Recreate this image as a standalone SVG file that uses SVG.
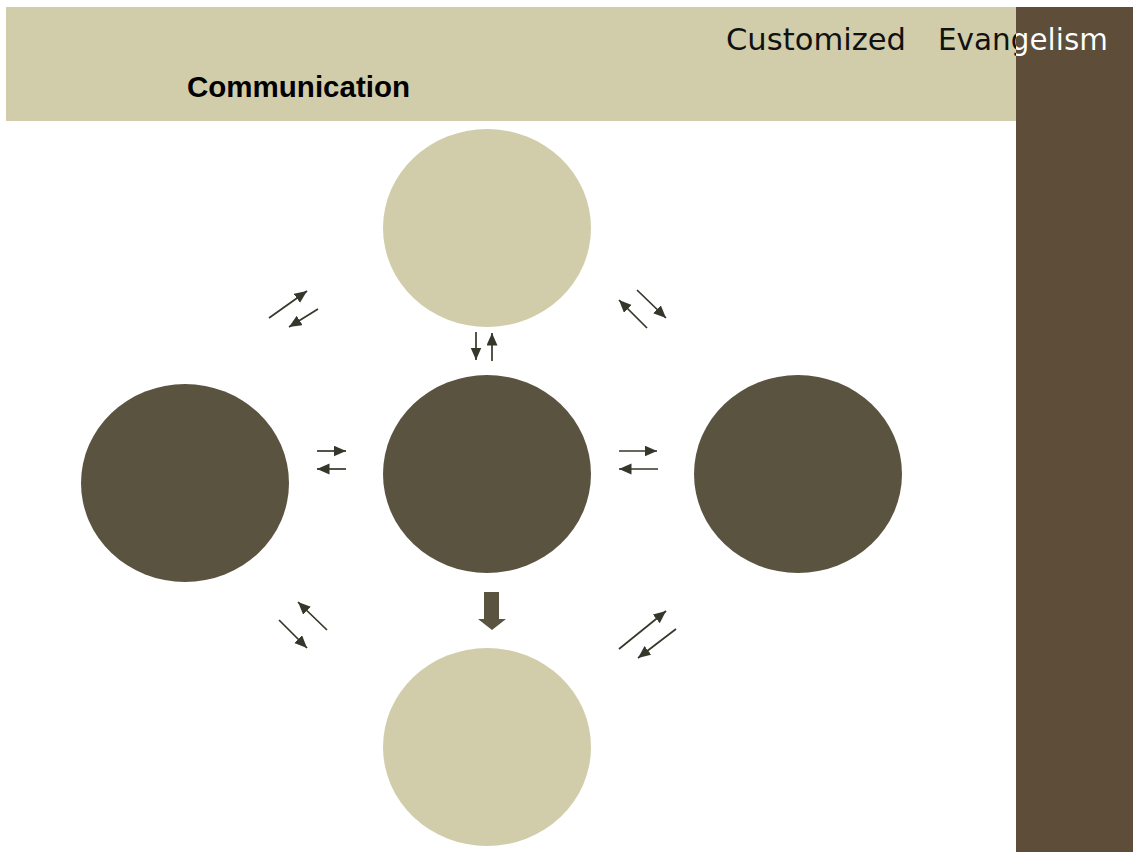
<svg xmlns="http://www.w3.org/2000/svg" width="1133" height="852" viewBox="0 0 1133 852">
<defs>
<style>
.light{fill:#d1cdaa}
.dark{fill:#5a5340}
.conn{stroke:#36362a;stroke-width:1.7;fill:none;marker-end:url(#ah)}
.hdr{font-family:"DejaVu Sans",Verdana,sans-serif;font-size:30px}
</style>
<marker id="ah" markerUnits="userSpaceOnUse" markerWidth="14" markerHeight="12" refX="12.5" refY="5.5" orient="auto">
<path d="M0,0 L12.5,5.5 L0,11 z" fill="#36362a"/>
</marker>
<clipPath id="onbar"><rect x="1016" y="0" width="117" height="852"/></clipPath>
</defs>
<rect width="1133" height="852" fill="#ffffff"/>
<g id="header">
<rect x="6" y="7" width="1010" height="114" fill="#d1cdaa"/>
<rect x="1016" y="7" width="117" height="845" fill="#5e4e39"/>
<text class="hdr" x="726" y="50" fill="#111111" textLength="180" lengthAdjust="spacingAndGlyphs">Customized</text>
<text class="hdr" x="938" y="50" fill="#111111" textLength="170" lengthAdjust="spacingAndGlyphs">Evangelism</text>
<g clip-path="url(#onbar)">
<text class="hdr" x="938" y="50" fill="#ffffff" textLength="170" lengthAdjust="spacingAndGlyphs">Evangelism</text>
</g>
<text x="187" y="97" font-family="'Liberation Sans',Arial,sans-serif" font-size="29" font-weight="bold" fill="#000000" textLength="223" lengthAdjust="spacingAndGlyphs">Communication</text>
</g>
<g id="node-top"><ellipse class="light" cx="487" cy="228" rx="104" ry="99"/></g>
<g id="node-center"><ellipse class="dark" cx="487" cy="474" rx="104" ry="99"/></g>
<g id="node-left"><ellipse class="dark" cx="185" cy="483" rx="104" ry="99"/></g>
<g id="node-right"><ellipse class="dark" cx="798" cy="474" rx="104" ry="99"/></g>
<g id="node-bottom"><ellipse class="light" cx="487" cy="747" rx="104" ry="99"/></g>
<g id="connectors">
<line class="conn" x1="269" y1="318" x2="307" y2="291"/>
<line class="conn" x1="318" y1="309" x2="289" y2="327"/>
<line class="conn" x1="476" y1="332" x2="476" y2="360"/>
<line class="conn" x1="492" y1="361" x2="492" y2="333"/>
<line class="conn" x1="637" y1="290" x2="666" y2="318"/>
<line class="conn" x1="647" y1="328" x2="619" y2="300"/>
<line class="conn" x1="317" y1="451" x2="346" y2="451"/>
<line class="conn" x1="346" y1="469" x2="317" y2="469"/>
<line class="conn" x1="619" y1="451" x2="657" y2="451"/>
<line class="conn" x1="658" y1="469" x2="619" y2="469"/>
<line class="conn" x1="327" y1="630" x2="298" y2="602"/>
<line class="conn" x1="279" y1="620" x2="307" y2="648"/>
<line class="conn" x1="619" y1="649" x2="666" y2="611"/>
<line class="conn" x1="676" y1="629" x2="638" y2="658"/>
<path d="M484,592 H499 V619 H506 L492,630 L478,619 H484 Z" fill="#5a5340"/>
</g>
</svg>
